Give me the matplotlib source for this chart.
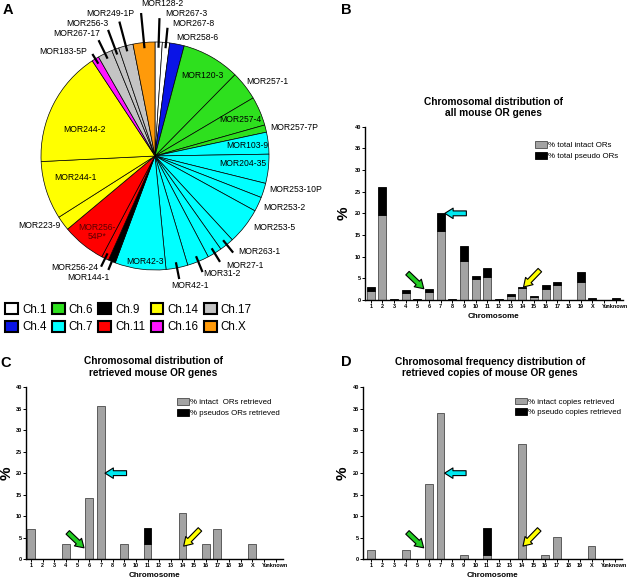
import numpy as np
import matplotlib
matplotlib.use("Agg")
import matplotlib.pyplot as plt
from matplotlib.patches import Patch
from matplotlib.transforms import ScaledTranslation

plt.rcParams["font.family"] = ["Liberation Sans", "DejaVu Sans"]

W, H = 640, 579

# ---- pie data (A): retrieved genes, number of retrieved copies ----
gene_names = ["MOR267-3", "MOR267-8", "MOR258-6",
              "MOR120-3", "MOR257-1", "MOR257-4", "MOR257-7P",
              "MOR103-9", "MOR204-35", "MOR253-10P", "MOR253-2", "MOR253-5",
              "MOR263-1", "MOR27-1", "MOR31-2", "MOR42-1", "MOR42-3",
              "MOR144-1", "MOR256-24", "MOR256-54P*",
              "MOR223-9", "MOR244-1", "MOR244-2",
              "MOR183-5P", "MOR267-17", "MOR256-3", "MOR249-1P", "MOR128-2"]
gene_copies = [1, 1, 2,
               8, 4, 4, 1,
               3, 4, 2, 2, 5, 2, 2, 3, 3, 7,
               1, 1, 6,
               2, 8, 16,
               1, 2, 1, 2, 3]
gene_chrom = ["1", "1", "4",
              "6", "6", "6", "6",
              "7", "7", "7", "7", "7", "7", "7", "7", "7", "7",
              "9", "11", "11",
              "14", "14", "14",
              "16", "17", "17", "17", "X"]

legend_chroms = ["1", "4", "6", "7", "9", "11", "14", "16", "17", "X"]
chrom_colors = {"1": "white", "4": "#0a14e6", "6": "#2ee01e", "7": "#00ffff",
                "9": "black", "11": "#ff0000", "14": "#ffff00", "16": "#ff14ff",
                "17": "#c4c4c4", "X": "#ff9a0a"}

# ---- bar data (B, C, D) ----
chrom_names = [str(i) for i in range(1, 20)] + ["X", "Y", "unknown"]

all_intact = [2.1, 19.7, 0.0, 1.7, 0.0, 1.8, 16.0, 0.0, 9.1, 4.8, 5.4,
              0.0, 1.0, 2.8, 0.7, 2.6, 3.4, 0.0, 4.2, 0.3, 0.0, 0.3]
all_pseudo = [1.0, 6.3, 0.3, 0.6, 0.2, 0.7, 4.0, 0.3, 3.4, 0.8, 1.9,
              0.3, 0.3, 0.1, 0.2, 0.9, 0.8, 0.0, 2.2, 0.25, 0.0, 0.2]

ret_intact = [7.1, 0, 0, 3.6, 0, 14.3, 35.7, 0, 3.6, 0, 3.6,
              0, 0, 10.7, 0, 3.6, 7.1, 0, 0, 3.6, 0, 0]
ret_pseudo = [0, 0, 0, 0, 0, 0, 0, 0, 0, 0, 3.6,
              0, 0, 0, 0, 0, 0, 0, 0, 0, 0, 0]

copy_intact = [2.1, 0, 0, 2.1, 0, 17.5, 34.0, 0, 1.0, 0, 1.0,
               0, 0, 26.8, 0, 1.0, 5.2, 0, 0, 3.1, 0, 0]
copy_pseudo = [0, 0, 0, 0, 0, 0, 0, 0, 0, 0, 6.2,
               0, 0, 0, 0, 0, 0, 0, 0, 0, 0, 0]

fig = plt.figure(figsize=(6.4, 5.79), dpi=100)


def px_axes(left, top, right, bottom):
    return fig.add_axes([left / W, 1 - bottom / H, (right - left) / W, (bottom - top) / H])


# ================= A : pie =================
cx, cy, R = 155, 156, 114
ax_pie = px_axes(cx - R, cy - R, cx + R, cy + R)
wedges, _ = ax_pie.pie(gene_copies, colors=[chrom_colors[c] for c in gene_chrom],
                       startangle=90, counterclock=False, radius=1,
                       wedgeprops=dict(edgecolor="black", linewidth=0.5))
ax_pie.set_xlim(-1, 1)
ax_pie.set_ylim(-1, 1)
ax_pie.set_aspect("equal")
ax_pie.axis("off")

def px2pie(px, py):
    return (px - cx) / R, (cy - py) / R

# label centres in pixels
label_pos = {"MOR128-2": (162, 4), "MOR267-3": (186, 13), "MOR267-8": (193, 23),
             "MOR258-6": (197, 37), "MOR249-1P": (110, 13), "MOR256-3": (87, 23),
             "MOR267-17": (77, 33), "MOR183-5P": (63, 52), "MOR120-3": (202, 76),
             "MOR257-1": (267, 81), "MOR257-4": (240, 119), "MOR257-7P": (294, 127),
             "MOR103-9": (247, 146), "MOR204-35": (243, 163), "MOR253-10P": (296, 190),
             "MOR253-2": (284, 208), "MOR253-5": (274, 227), "MOR263-1": (259, 252),
             "MOR27-1": (245, 265), "MOR31-2": (222, 274), "MOR42-1": (190, 285),
             "MOR42-3": (145, 261), "MOR223-9": (39, 225), "MOR256-54P*": (97, 232),
             "MOR256-24": (75, 267), "MOR144-1": (88, 277), "MOR244-2": (85, 130),
             "MOR244-1": (75, 177)}
leader_len = {"MOR128-2": 1.26, "MOR267-3": 1.21, "MOR267-8": 1.13, "MOR249-1P": 1.22,
              "MOR256-3": 1.18, "MOR267-17": 1.13, "MOR183-5P": 1.05, "MOR263-1": 1.09,
              "MOR27-1": 1.09, "MOR31-2": 1.1, "MOR42-1": 1.1, "MOR256-24": 1.08,
              "MOR144-1": 1.08}

for name, (px, py) in label_pos.items():
    x, y = px2pie(px, py)
    txt = name
    col = "black"
    if name == "MOR256-54P*":
        txt = "MOR256-\n54P*"
        col = "#5a0000"
    ax_pie.text(x, y, txt, ha="center", va="center", fontsize=6.2, color=col,
                linespacing=1.1, clip_on=False)

for name, r1 in leader_len.items():
    w = wedges[gene_names.index(name)]
    a = np.deg2rad((w.theta1 + w.theta2) / 2)
    ax_pie.plot([0.95 * np.cos(a), r1 * np.cos(a)], [0.95 * np.sin(a), r1 * np.sin(a)],
                color="black", lw=1.6, solid_capstyle="butt", clip_on=False)

handles = [Patch(facecolor=chrom_colors[c], edgecolor="black", linewidth=1.5) for c in legend_chroms]
fig.legend(handles, ["Ch." + c for c in legend_chroms], ncol=5, loc="upper left",
           bbox_to_anchor=(5 / W, 1 - 303 / H), frameon=False, fontsize=8.4,
           handlelength=1.1, handleheight=1.1, handletextpad=0.35, columnspacing=0.45,
           labelspacing=0.45, borderpad=0, borderaxespad=0)

# ================= B, C, D : bars =================
arrows = [("#00e8f0", (6.35, 20.0), (8.2, 20.0)),
          ("#22cc22", (4.55, 2.6), (3.15, 6.2)),
          ("#ffff00", (13.1, 3.0), (14.5, 6.9))]


def bar_panel(ax, intact, pseudo, xleft, leg_labels, leg_anchor, ypad=2.5):
    x = np.arange(len(chrom_names))
    intact = np.array(intact, dtype=float)
    pseudo = np.array(pseudo, dtype=float)
    m1 = intact > 0
    m2 = pseudo > 0
    ax.bar(x[m1], intact[m1], width=0.68, color="#a3a3a3", edgecolor="#4a4a4a",
           linewidth=0.6, label=leg_labels[0])
    ax.bar(x[m2], pseudo[m2], bottom=intact[m2], width=0.68, color="black",
           edgecolor="black", linewidth=0.6, label=leg_labels[1])
    ax.set_xlim(xleft, 21.6)
    ax.set_ylim(0, 40)
    ax.set_xticks(x)
    ax.set_xticklabels(chrom_names, fontsize=4.0, fontweight="bold")
    # "unknown" sits a little to the right of its bar
    lab = ax.get_xticklabels()[-1]
    lab.set_transform(lab.get_transform() + ScaledTranslation(6.5 / 100, 0, fig.dpi_scale_trans))
    ax.set_yticks(range(0, 41, 5))
    ax.set_yticklabels([str(v) for v in range(0, 41, 5)], fontsize=4.0, fontweight="bold")
    ax.tick_params(axis="both", length=2, width=0.7, pad=1)
    for s in ["top", "right"]:
        ax.spines[s].set_visible(False)
    for s in ["left", "bottom"]:
        ax.spines[s].set_linewidth(1.0)
    ax.set_xlabel("Chromosome", fontsize=5.8, fontweight="bold", labelpad=2.5)
    ax.set_ylabel("%", fontsize=11, fontweight="bold", labelpad=ypad)
    ax.legend(loc="upper left", bbox_to_anchor=leg_anchor, frameon=False, fontsize=5.7,
              handlelength=1.5, handleheight=0.9, handletextpad=0.15,
              labelspacing=0.35, borderpad=0, borderaxespad=0)
    for col, tip, tail in arrows:
        ax.annotate("", xy=tip, xytext=tail,
                    arrowprops=dict(arrowstyle="simple,head_length=0.6,head_width=0.75,tail_width=0.35",
                                    mutation_scale=10, fc=col, ec="black", lw=0.8,
                                    shrinkA=0, shrinkB=0))


ax_b = px_axes(365, 126.7, 622.7, 300)
bar_panel(ax_b, all_intact, all_pseudo, -0.49,
          ["% total intact ORs", "% total pseudo ORs"], (0.66, 0.915))
ax_c = px_axes(26, 387.3, 282.7, 559)
bar_panel(ax_c, ret_intact, ret_pseudo, -0.43,
          ["% intact  ORs retrieved", "% pseudos ORs retrieved"], (0.587, 0.935), ypad=1.5)
ax_d = px_axes(363.3, 387.3, 621.7, 559)
bar_panel(ax_d, copy_intact, copy_pseudo, -0.65,
          ["% intact copies retrieved", "% pseudo copies retrieved"], (0.587, 0.94))

fig.text(493 / W, 1 - 107.5 / H, "Chromosomal distribution of\nall mouse OR genes",
         ha="center", va="center", fontsize=7.3, fontweight="bold", linespacing=1.15)
fig.text(153 / W, 1 - 367 / H, "Chromosomal distribution of\nretrieved mouse OR genes",
         ha="center", va="center", fontsize=7.3, fontweight="bold", linespacing=1.15)
fig.text(490 / W, 1 - 367.5 / H, "Chromosomal frequency distribution of\nretrieved copies of mouse OR genes",
         ha="center", va="center", fontsize=7.3, fontweight="bold", linespacing=1.15)

for letter, (px, py) in {"A": (8, 10), "B": (346, 10), "C": (6, 363), "D": (346, 362)}.items():
    fig.text(px / W, 1 - py / H, letter, ha="center", va="center", fontsize=10.5, fontweight="bold")

fig.savefig("out.png", dpi=100)
